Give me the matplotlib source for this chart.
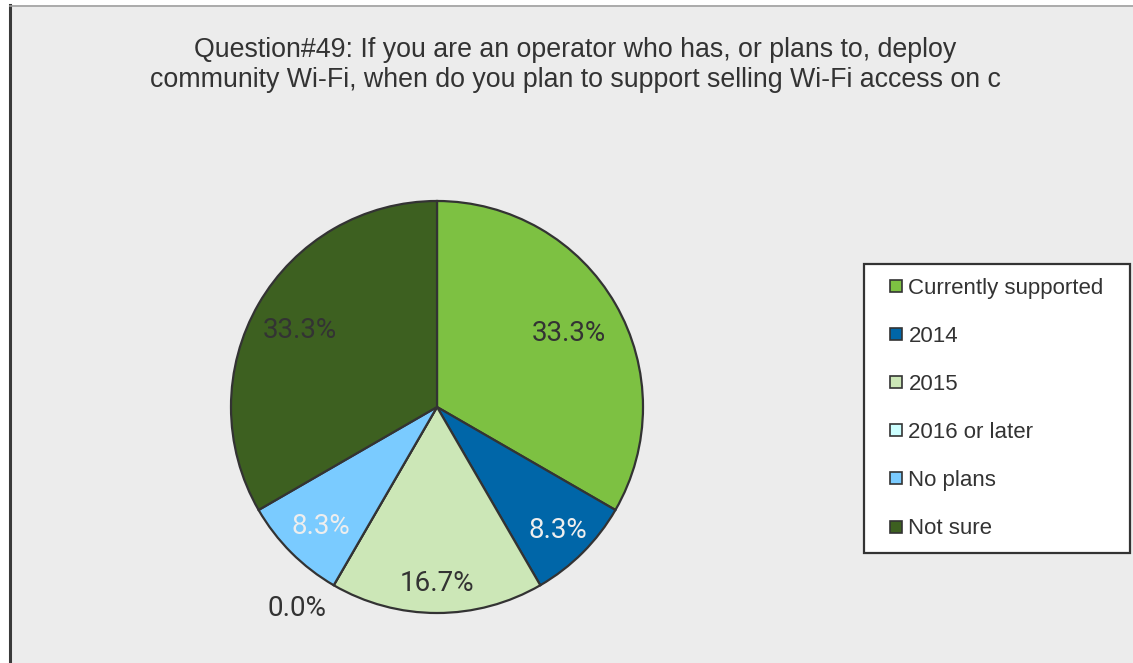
import matplotlib.pyplot as plt
from matplotlib.patches import Rectangle
from matplotlib.lines import Line2D
import numpy as np

# Question#49 survey answers (share of respondents)
categories = ["Currently supported", "2014", "2015", "2016 or later", "No plans", "Not sure"]
values = [33.3, 8.3, 16.7, 0.0, 8.3, 33.3]
colors = ["#7DC142", "#0066A8", "#CCE7B7", "#CCFFFF", "#7ACBFF", "#3D6020"]
label_colors = ["#333333", "#EEEEEE", "#333333", "#333333", "#EEEEEE", "#333333"]
label_radius = [0.74, 0.83, 0.84, 1.18, 0.80, 0.77]

title = ("Question#49: If you are an operator who has, or plans to, deploy\n"
         "community Wi-Fi, when do you plan to support selling Wi-Fi access on c")

W, H = 1133, 663
fig = plt.figure(figsize=(W / 100, H / 100), dpi=100, facecolor="white")

# grey chart area with dark left border and thin top line
fig.patches.append(Rectangle((9 / W, 0), 1 - 9 / W, 1 - 5 / H, transform=fig.transFigure,
                             facecolor="#ECECEC", edgecolor="none", zorder=-5))
fig.add_artist(Line2D([9.5 / W, 9.5 / W], [0, 1 - 5 / H], transform=fig.transFigure,
                      color="#3a3a3a", lw=2.2, zorder=-4))
fig.add_artist(Line2D([9.5 / W, 1], [1 - 5.5 / H, 1 - 5.5 / H], transform=fig.transFigure,
                      color="#a0a0a0", lw=1.2, zorder=-4))

fig.text(575 / W, 1 - 65 / H, title, ha="center", va="center", fontsize=19.3,
         family="Liberation Sans", color="#333333", linespacing=1.2)

cx, cy, r = 437, 407, 206
ax = fig.add_axes([(cx - r) / W, (H - cy - r) / H, 2 * r / W, 2 * r / H])

wedges, _ = ax.pie(values, colors=colors, startangle=90, counterclock=False, radius=1,
                   wedgeprops=dict(edgecolor="#333333", linewidth=1.6))
ax.set_xlim(-1, 1)
ax.set_ylim(-1, 1)
ax.set_aspect("equal")
ax.axis("off")

for w, v, c, lr in zip(wedges, values, label_colors, label_radius):
    ang = np.deg2rad((w.theta1 + w.theta2) / 2)
    if v == 0:
        ang = np.deg2rad(w.theta1 - 5)
    ax.text(lr * np.cos(ang), lr * np.sin(ang) - 0.015, f"{v:.1f}%", ha="center", va="center",
            fontsize=20, family="Roboto", color=c, clip_on=False)

handles = [Line2D([], [], linestyle="none", marker="s", markersize=8, markerfacecolor=col,
                  markeredgecolor="#333333", markeredgewidth=1.2) for col in colors]
leg = fig.legend(handles, categories, loc="upper left",
                 bbox_to_anchor=(864 / W, 1 - 264 / H - 0.01, 266 / W, 0.01),
                 bbox_transform=fig.transFigure,
                 mode="expand", prop={"family": "Liberation Sans", "size": 16},
                 handlelength=1.6, handletextpad=-0.22, labelspacing=1.22,
                 borderpad=0.62, borderaxespad=0, fancybox=False, frameon=True)
leg.get_frame().set_edgecolor("#333333")
leg.get_frame().set_linewidth(1.6)
leg.get_frame().set_facecolor("white")
leg.get_frame().set_alpha(1)
for t in leg.get_texts():
    t.set_color("#333333")

fig.savefig("out.png", dpi=100)
